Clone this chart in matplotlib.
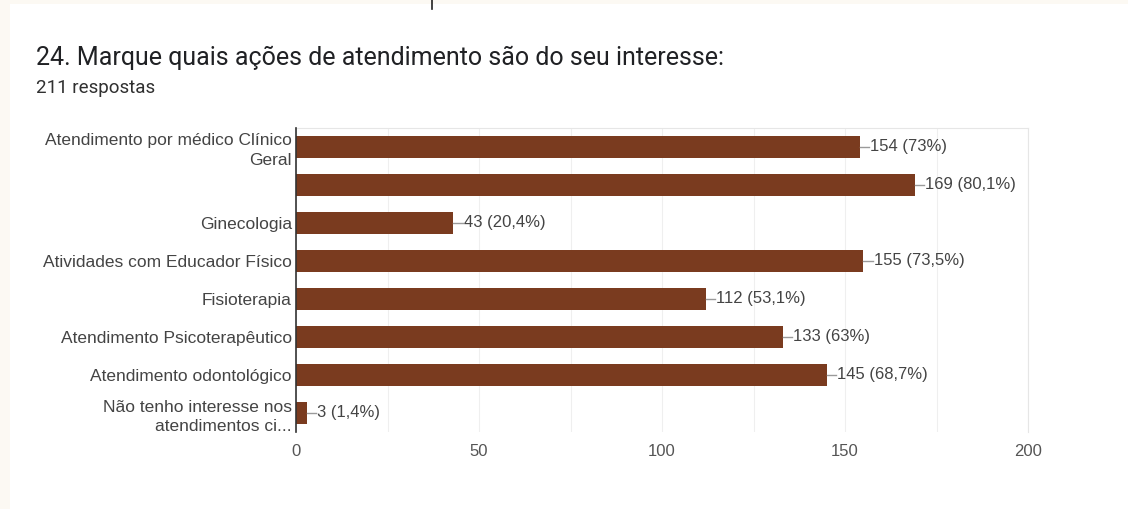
import matplotlib.pyplot as plt
from matplotlib.patches import Rectangle
from matplotlib.lines import Line2D
from matplotlib.ticker import MultipleLocator

categories = [
    "Atendimento por médico Clínico\nGeral",
    "",
    "Ginecologia",
    "Atividades com Educador Físico",
    "Fisioterapia",
    "Atendimento Psicoterapêutico",
    "Atendimento odontológico",
    "Não tenho interesse nos\natendimentos ci...",
]
counts = [154, 169, 43, 155, 112, 133, 145, 3]
percents = ["73%", "80,1%", "20,4%", "73,5%", "53,1%", "63%", "68,7%", "1,4%"]

bar_color = "#7a3b1f"
text_color = "#444444"

fig = plt.figure(figsize=(11.28, 5.09), dpi=100)
fig.patch.set_facecolor("#fcf9f3")

# white card behind everything
fig.patches.append(Rectangle((10 / 1128, 0), 1, 1 - 4 / 509,
                             transform=fig.transFigure, facecolor="white",
                             edgecolor="none", zorder=-10))
fig.lines.append(Line2D([432 / 1128, 432 / 1128], [1, 1 - 9 / 509],
                        transform=fig.transFigure, color="#222222", lw=1.2))

fig.text(36 / 1128, 1 - 58 / 509,
         "24. Marque quais ações de atendimento são do seu interesse:",
         fontsize=18, family="Roboto", color="#202124", va="center")
fig.text(36 / 1128, 1 - 88 / 509, "211 respostas",
         fontsize=13.5, family="Roboto", color="#303030", va="center")

ax = fig.add_axes([296 / 1128, 1 - 432 / 509, (1028 - 296) / 1128, (432 - 128) / 509])
ax.set_zorder(5)
ax.patch.set_alpha(0)
y = list(range(len(categories)))
ax.barh(y, counts, height=0.6, color=bar_color, zorder=3)

for yi, c, p in zip(y, counts, percents):
    ax.plot([c, c + 2.6], [yi, yi], color="#9a9a9a", lw=1.0, zorder=3)
    ax.text(c + 2.8, yi, f"{c} ({p})", va="center", ha="left",
            fontsize=12, family="Liberation Sans", color=text_color)

ax.set_xlim(0, 200)
ax.set_ylim(len(categories) - 0.5, -0.5)
ax.set_yticks(y)
ax.set_yticklabels(categories, fontsize=12.5, family="Liberation Sans",
                   color=text_color, linespacing=1.35)
ax.xaxis.set_major_locator(MultipleLocator(50))
ax.xaxis.set_minor_locator(MultipleLocator(25))
for lab in ax.get_xticklabels():
    lab.set_family("Liberation Sans")
ax.tick_params(axis="x", labelsize=12, labelcolor="#555555", length=0, pad=9, which="both")
ax.tick_params(axis="y", length=0, pad=3)
ax.grid(axis="x", which="both", color="#efefef", lw=0.8, zorder=0)

for side in ["top", "right", "bottom"]:
    ax.spines[side].set_color("#e6e6e6")
ax.spines["bottom"].set_visible(False)
ax.spines["left"].set_color("#333333")
ax.spines["left"].set_linewidth(1.2)
ax.spines["left"].set_zorder(4)

fig.savefig("out.png", dpi=100)
